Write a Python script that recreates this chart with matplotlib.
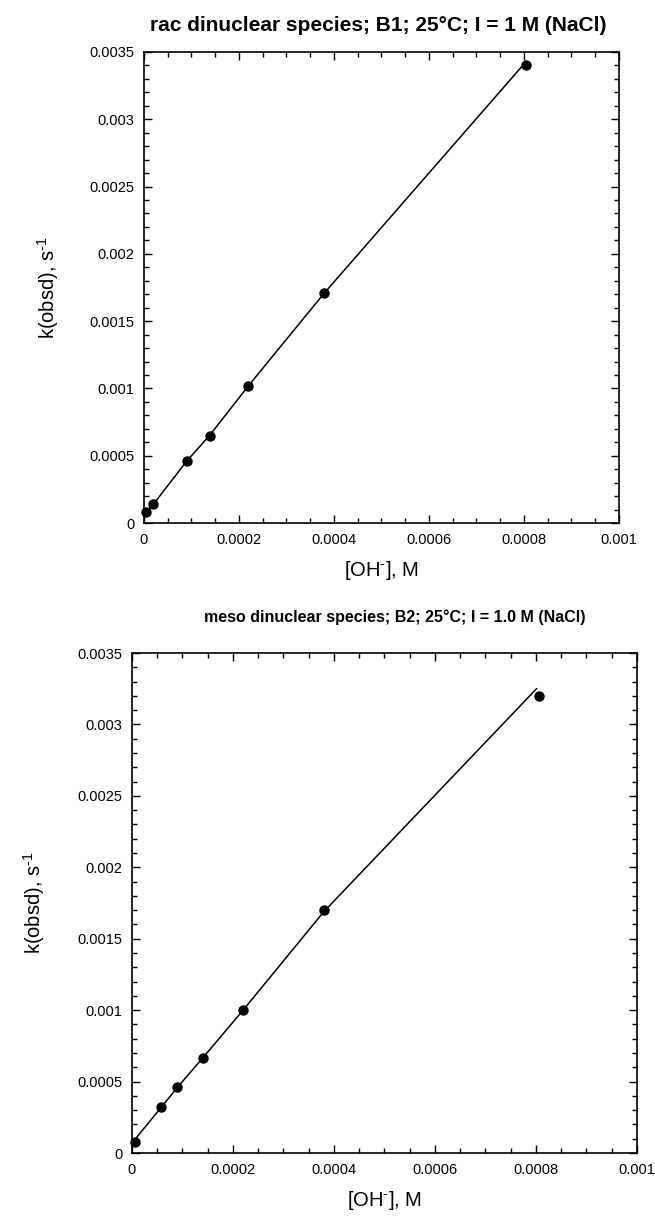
import matplotlib
matplotlib.use('Agg')
import matplotlib.pyplot as plt
from matplotlib.ticker import MultipleLocator, FuncFormatter

plt.rcParams['font.family'] = ['Liberation Sans', 'DejaVu Sans']
plt.rcParams['mathtext.fontset'] = 'custom'
plt.rcParams['mathtext.rm'] = 'Liberation Sans'
plt.rcParams['mathtext.it'] = 'Liberation Sans:italic'
plt.rcParams['mathtext.bf'] = 'Liberation Sans:bold'
plt.rcParams['mathtext.default'] = 'regular'

# rac dinuclear species (B1)
rac_oh = [0.000005, 0.00002, 0.00009, 0.000138, 0.00022, 0.00038, 0.000805]
rac_k = [0.00008, 0.00014, 0.00046, 0.00065, 0.00102, 0.00171, 0.0034]
rac_fit_oh = [0.000005, 0.00002, 0.00009, 0.000138, 0.00022, 0.00038, 0.000795]
rac_fit_k = [0.00008, 0.00014, 0.00046, 0.00065, 0.00102, 0.00171, 0.00339]

# meso dinuclear species (B2)
meso_oh = [0.000005, 0.000058, 0.00009, 0.00014, 0.00022, 0.00038, 0.000806]
meso_k = [0.00008, 0.00032, 0.00046, 0.000665, 0.001, 0.0017, 0.0032]
meso_fit_oh = [0.0, 0.000058, 0.00009, 0.00014, 0.00022, 0.00038, 0.000801]
meso_fit_k = [0.00007, 0.00032, 0.00046, 0.000665, 0.001, 0.00169, 0.00325]

titles = ['rac dinuclear species; B1; 25°C; I = 1 M (NaCl)',
          'meso dinuclear species; B2; 25°C; I = 1.0 M (NaCl)']

fig = plt.figure(figsize=(6.55, 12.2), dpi=100)
ax1 = fig.add_axes([0.2198, 0.5713, 0.7252, 0.3861])
ax2 = fig.add_axes([0.2015, 0.0549, 0.7710, 0.4098])

fmt = FuncFormatter(lambda v, p: '%g' % round(v, 6))


def style_axes(ax, ypad):
    ax.set_xlim(0, 0.001)
    ax.set_ylim(0, 0.0035)
    ax.xaxis.set_major_locator(MultipleLocator(0.0002))
    ax.xaxis.set_minor_locator(MultipleLocator(0.00005))
    ax.yaxis.set_major_locator(MultipleLocator(0.0005))
    ax.yaxis.set_minor_locator(MultipleLocator(0.0001))
    ax.xaxis.set_major_formatter(fmt)
    ax.yaxis.set_major_formatter(fmt)
    ax.tick_params(which='both', direction='in', top=True, right=True,
                   labelsize=10.5, width=1.0)
    ax.tick_params(which='major', length=6, pad=7)
    ax.tick_params(which='minor', length=3.5)
    for s in ax.spines.values():
        s.set_linewidth(1.2)
    ax.set_xlabel('[OH$^{\u2010}$], M', fontsize=14.5, labelpad=9)
    ax.set_ylabel('k(obsd), s$^{\u2010 1}$', fontsize=14.5, labelpad=ypad)


ax1.plot(rac_fit_oh, rac_fit_k, color='black', lw=1.1)
ax1.plot(rac_oh, rac_k, 'o', color='black', ms=6.5, clip_on=False)
style_axes(ax1, 20)

ax2.plot(meso_fit_oh, meso_fit_k, color='black', lw=1.1)
ax2.plot(meso_oh, meso_k, 'o', color='black', ms=6.5, clip_on=False)
style_axes(ax2, 22)

fig.text(0.578, 0.9795, titles[0], ha='center', va='center',
         fontsize=15, fontweight='bold')
fig.text(0.603, 0.4943, titles[1], ha='center', va='center',
         fontsize=11.5, fontweight='bold')

plt.savefig('out.png', dpi=100)
